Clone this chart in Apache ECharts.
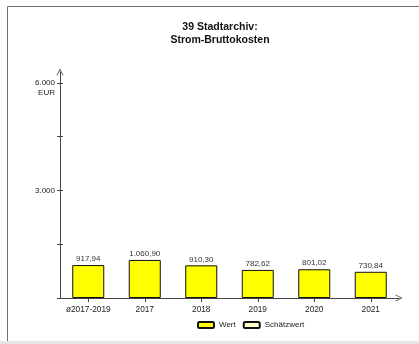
<!DOCTYPE html>
<html><head><meta charset="utf-8">
<script src="https://cdn.jsdelivr.net/npm/echarts@6/dist/echarts.min.js"></script>
<style>html,body{margin:0;padding:0;background:#fff}#c{width:419px;height:344px}</style>
</head><body><div id="c"></div>
<script>
var categories = ['ø2017-2019', '2017', '2018', '2019', '2020', '2021'];
var wertValues = [917.94, 1060.90, 910.30, 782.62, 801.02, 730.84];
var schaetzValues = [null, null, null, null, null, null];
var yTickValues = [0, 1500, 3000, 4500, 6000];
var yLabelValues = [3000, 6000];
var titleLines = ['39 Stadtarchiv:', 'Strom-Bruttokosten'];

function fmtDE(v, dec) {
  var s = v.toFixed(dec).split('.');
  var ip = s[0].replace(/\B(?=(\d{3})+(?!\d))/g, '.');
  return dec > 0 ? ip + ',' + s[1] : ip;
}
var chevron = 'path://M0,10 L5,0 L10,10 L8.8,10 L5,2.4 L1.2,10 Z';
var font = 'Liberation Sans, Arial, sans-serif';
var chart = echarts.init(document.getElementById('c'), null, {renderer: 'canvas'});
chart.setOption({
  animation: false,
  backgroundColor: '#fff',
  title: {
    text: titleLines.join('\n'),
    left: 215, top: 16, textAlign: 'center',
    textStyle: {fontFamily: font, fontSize: 10.5, fontWeight: 'bold', color: '#111', lineHeight: 13}
  },
  graphic: [
    {type: 'line', shape: {x1: 7.5, y1: 6.5, x2: 419, y2: 6.5}, style: {stroke: '#6e6e6e', lineWidth: 1}},
    {type: 'line', shape: {x1: 7.5, y1: 6.5, x2: 7.5, y2: 341}, style: {stroke: '#6e6e6e', lineWidth: 1}},
    {type: 'rect', shape: {x: 0, y: 341, width: 419, height: 3}, style: {fill: '#e6e6e6'}}
  ],
  legend: {
    data: ['Wert', 'Schätzwert'],
    left: 192, top: 316,
    icon: 'roundRect', itemWidth: 16, itemHeight: 6, itemGap: 7,
    textStyle: {fontFamily: font, fontSize: 8, color: '#222'}
  },
  grid: {left: 60, right: 20, top: 72, bottom: 46, containLabel: false},
  xAxis: {
    type: 'category', data: categories,
    axisLine: {show: true, symbol: ['none', chevron], symbolSize: [7, 8], lineStyle: {color: '#444', width: 1}},
    axisTick: {show: true, alignWithLabel: true, length: 4, lineStyle: {color: '#444'}},
    axisLabel: {fontFamily: font, fontSize: 8.3, color: '#222', margin: 8, interval: 0}
  },
  yAxis: [{
    type: 'value', min: 0, max: 6300, interval: 1500,
    splitLine: {show: false},
    axisLine: {show: true, symbol: ['none', chevron], symbolSize: [7, 8], lineStyle: {color: '#444', width: 1}},
    axisTick: {show: true, length: 3, customValues: yTickValues, lineStyle: {color: '#444'}},
    axisLabel: {
      customValues: yLabelValues, fontFamily: font, fontSize: 8, color: '#222', margin: 5, lineHeight: 10,
      formatter: function (v) { return v === 6000 ? '\n' + fmtDE(v, 0) + '\nEUR' : fmtDE(v, 0); }
    }
  }, {
    type: 'value', min: 0, max: 6300, interval: 1500, position: 'left', offset: 0,
    splitLine: {show: false}, axisLine: {show: false}, axisLabel: {show: false},
    axisTick: {show: true, inside: true, length: 3, customValues: yTickValues, lineStyle: {color: '#444'}}
  }],
  series: [
    {
      name: 'Wert', type: 'bar', data: wertValues, barWidth: 32,
      itemStyle: {color: '#ffff00', borderColor: '#111', borderWidth: 1},
      label: {show: true, position: 'top', distance: 2, fontFamily: font, fontSize: 8, color: '#333',
        formatter: function (p) { return fmtDE(p.value, 2); }}
    },
    {
      name: 'Schätzwert', type: 'bar', data: schaetzValues, barWidth: 32, barGap: '-100%',
      itemStyle: {color: '#ffffd0', borderColor: '#111', borderWidth: 1}
    }
  ]
});
</script></body></html>
